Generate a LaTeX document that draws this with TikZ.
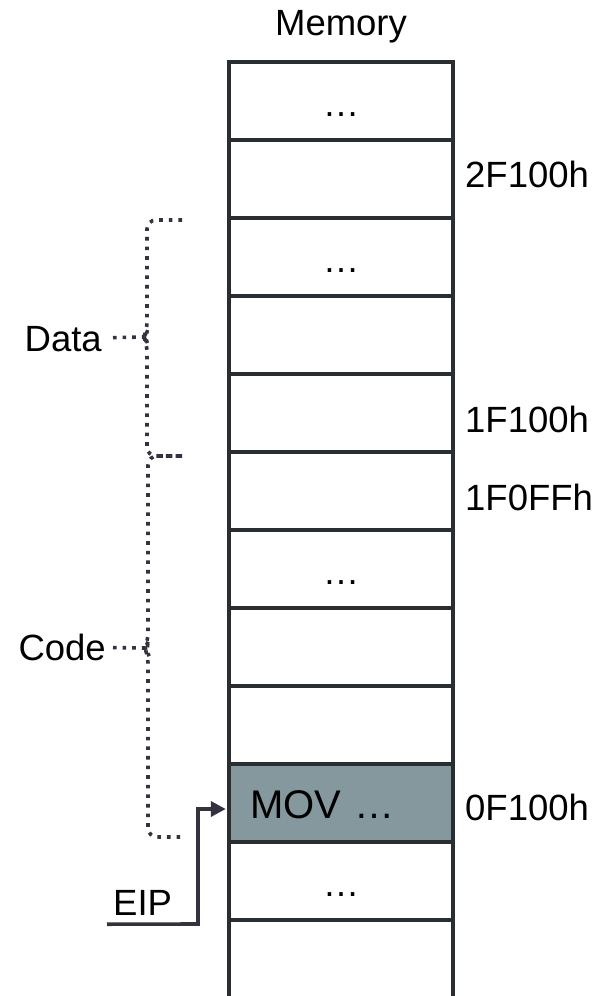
\documentclass[tikz,border=0pt]{standalone}
\usepackage{fontspec}
\setmainfont{Liberation Sans}
\usetikzlibrary{arrows.meta}

\definecolor{cellline}{RGB}{40,46,49}
\definecolor{movfill}{RGB}{133,152,158}
\definecolor{wire}{RGB}{51,51,64}

\tikzset{
	cell/.style={draw=cellline, line width=3.4pt, minimum width=224pt, minimum height=78pt,
		inner sep=0pt, text height=31pt, text depth=0pt, font=\fontsize{36.5}{40}\selectfont},
	lbl/.style={inner sep=0pt, font=\fontsize{36.5}{40}\selectfont},
	brace/.style={draw=wire, line width=3.6pt, dash pattern=on 3.6pt off 6pt, rounded corners=9pt},
	tick/.style={draw=wire, line width=3.6pt, dash pattern=on 3.6pt off 6pt},
}

\begin{document}
\begin{tikzpicture}[x=1pt, y=-1pt]
			%%%%% START %%%%%
			\useasboundingbox (0,0) rectangle (599,996);
			
			\node[lbl, anchor=base] (mem) at (341,35) {Memory};
			
			% memory cells, top to bottom
			\foreach \i/\txt in {0/…,1/,2/…,3/,4/,5/,6/…,7/,8/,10/…,11/}
				\node[cell] (m\i) at (341,{101+78*\i}) {\txt};
			\node[cell, fill=movfill, text width=182pt, inner xsep=21pt, align=left,
				font=\fontsize{40}{44}\selectfont] (m9) at (341,803) {MOV …};
			
			% addresses
			\node[lbl, anchor=base west] (a2f) at (465,187) {2F100h};
			\node[lbl, anchor=base west] (a1f) at (465,432) {1F100h};
			\node[lbl, anchor=base west] (a1ff) at (465,510) {1F0FFh};
			\node[lbl, anchor=base west] (a0f) at (465,820) {0F100h};
			
			% data brace
			\coordinate (dtip) at (144,337);
			\draw[brace] (182,220) -- (147,220) -- (147,331) -- (dtip) -- (147,343) -- (147,456) -- (182,456);
			\node[lbl, anchor=base east, inner xsep=11pt] (data) at (113,351) {Data};
			\draw[tick] (data) -- (dtip);
			
			% code brace
			\coordinate (ctip) at (145,648);
			\draw[brace] (182,456) -- (148,456) -- (148,642) -- (ctip) -- (148,654) -- (148,837) -- (180,837);
			\node[lbl, anchor=base east, inner xsep=7pt] (code) at (113,660) {Code};
			\draw[tick] (code) -- (ctip);
			
			% instruction pointer
			\node[lbl, anchor=base west, inner xsep=6pt, inner ysep=9pt] (eip) at (107,915) {EIP};
			\coordinate (bend) at (198,924);
			\draw[wire, line width=3.6pt, -{Triangle[length=15pt,width=15pt]}, shorten >=1.5pt]
				(eip.south west) -- (bend) |- ([yshift=-6pt]m9.west);
			
			%%%%% END %%%%%
\end{tikzpicture}
\end{document}
